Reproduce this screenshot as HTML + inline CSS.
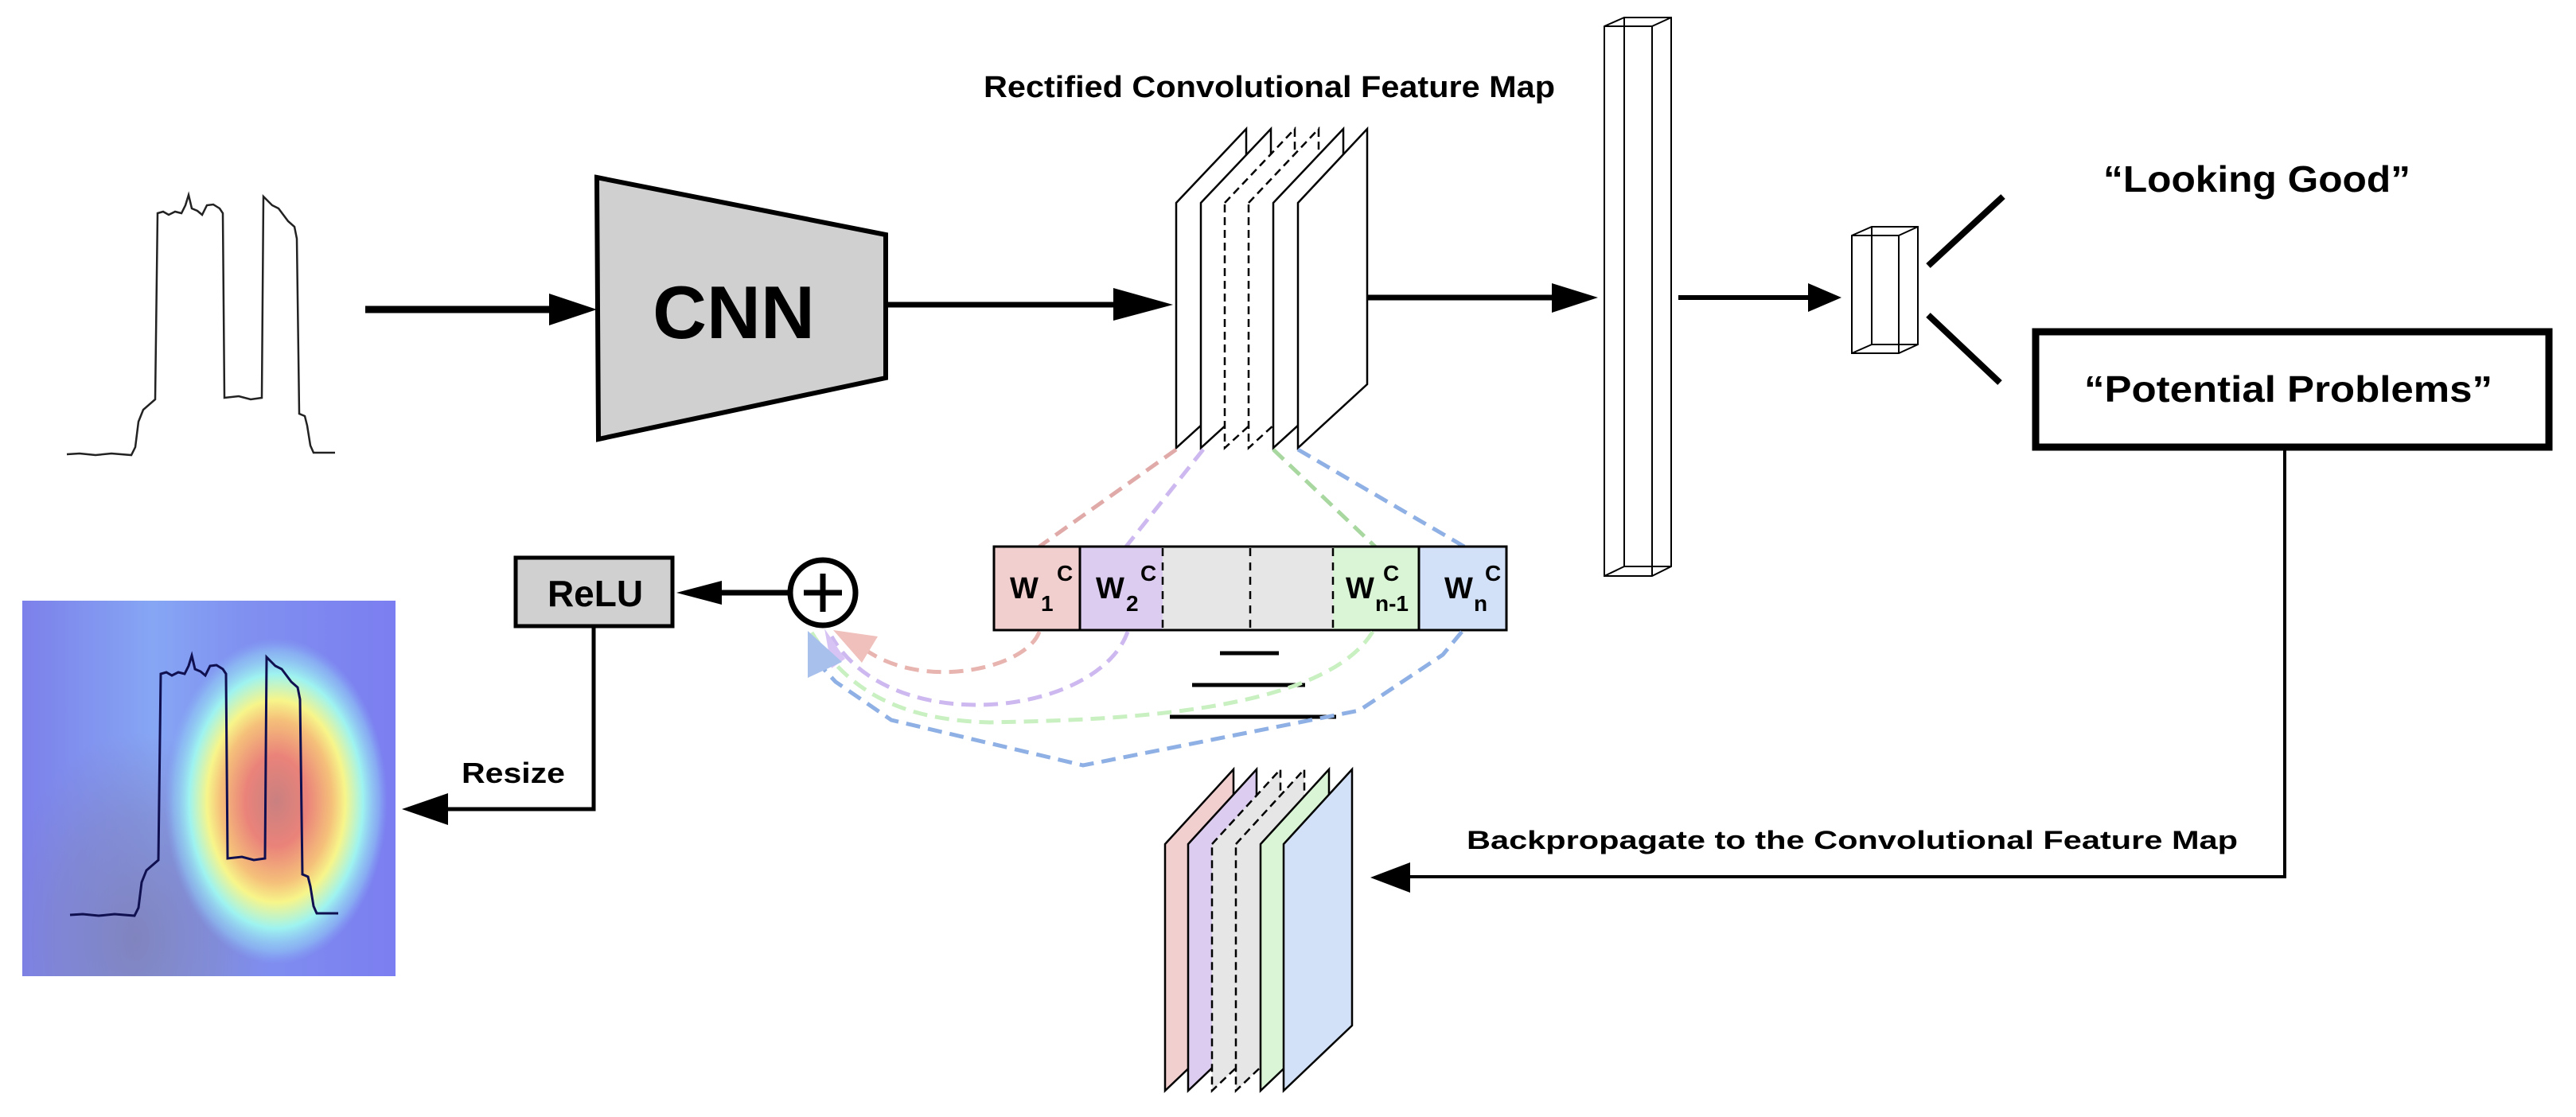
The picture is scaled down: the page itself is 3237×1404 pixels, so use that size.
<!DOCTYPE html>
<html><head><meta charset="utf-8"><style>
html,body{margin:0;padding:0;background:#fff;}
svg{display:block;}
text{font-family:"Liberation Sans",sans-serif;font-weight:bold;fill:#000;}
</style></head><body>
<svg width="3237" height="1404" viewBox="0 0 3237 1404" xmlns="http://www.w3.org/2000/svg">
<defs>
<radialGradient id="heat" cx="347" cy="1007" r="1" gradientUnits="userSpaceOnUse" gradientTransform="translate(347 1007) scale(140 205) translate(-347 -1007)">
<stop offset="0" stop-color="#c98080"/>
<stop offset="0.28" stop-color="#ea837a"/>
<stop offset="0.5" stop-color="#f5c07a"/>
<stop offset="0.62" stop-color="#f7f58a"/>
<stop offset="0.78" stop-color="#9ef3f0"/>
<stop offset="0.92" stop-color="#90c8f4" stop-opacity="0.6"/>
<stop offset="1" stop-color="#8ab0f4" stop-opacity="0"/>
</radialGradient>
<linearGradient id="hbg" x1="0" y1="0" x2="1" y2="0">
<stop offset="0" stop-color="#7c80ea"/>
<stop offset="0.35" stop-color="#86a6f4"/>
<stop offset="0.6" stop-color="#8090f0"/>
<stop offset="1" stop-color="#7b7ef0"/>
</linearGradient>
<radialGradient id="hdark" cx="170" cy="1180" r="1" gradientUnits="userSpaceOnUse" gradientTransform="translate(170 1180) scale(170 260) translate(-170 -1180)">
<stop offset="0" stop-color="#8080b8" stop-opacity="0.9"/>
<stop offset="0.6" stop-color="#8080c0" stop-opacity="0.5"/>
<stop offset="1" stop-color="#8080c8" stop-opacity="0"/>
</radialGradient>
<clipPath id="hclip"><rect x="28" y="755" width="469" height="472"/></clipPath>
</defs>

<!-- input signal -->
<path d="M84,571 L100,570 L120,572 L140,570 L165,572 L170,562 L174,530 L180,515 L195,502 L198,268 L205,266 L212,270 L220,266 L228,268 L233,258 L237,245 L241,262 L248,265 L254,270 L260,258 L268,257 L276,262 L280,268 L282,500 L300,498 L315,502 L329,500 L331,247 L336,252 L342,258 L350,262 L356,270 L362,278 L370,285 L373,300 L376,520 L383,523 L386,535 L390,560 L394,569 L421,569" fill="none" stroke="#222" stroke-width="2.5"/>

<!-- arrow 1 -->
<line x1="459" y1="389" x2="700" y2="389" stroke="#000" stroke-width="9"/>
<polygon points="690,369 750,389 690,409" fill="#000"/>

<!-- CNN -->
<polygon points="750,223 1113,295 1113,475 752,552" fill="#d0d0d0" stroke="#000" stroke-width="6"/>
<text x="922" y="425" font-size="94" text-anchor="middle">CNN</text>

<!-- arrow 2 -->
<line x1="1113" y1="383" x2="1410" y2="383" stroke="#000" stroke-width="7"/>
<polygon points="1399,362 1474,383 1399,403" fill="#000"/>

<text x="1236" y="122" font-size="38" textLength="718" lengthAdjust="spacingAndGlyphs">Rectified Convolutional Feature Map</text>

<!-- top feature map planes -->
<g stroke="#000" stroke-width="2.5" fill="#fff">
<polygon points="1478,255 1566,162 1566,483 1478,563"/>
<polygon points="1509,255 1597,162 1597,483 1509,563"/>
<polygon points="1539,255 1627,162 1627,483 1539,563" stroke-dasharray="10,6"/>
<polygon points="1569,255 1657,162 1657,483 1569,563" stroke-dasharray="10,6"/>
<polygon points="1600,255 1688,162 1688,483 1600,563"/>
<polygon points="1631,255 1718,162 1718,483 1631,563"/>
</g>

<!-- arrow 3 -->
<line x1="1718" y1="374" x2="1960" y2="374" stroke="#000" stroke-width="7"/>
<polygon points="1950,356 2008,374 1950,393" fill="#000"/>

<!-- big column -->
<g fill="none" stroke="#000" stroke-width="2">
<polygon points="2016,33 2041,22 2100,22 2100,712 2076,724 2016,724"/>
<line x1="2016" y1="33" x2="2076" y2="33"/>
<line x1="2076" y1="33" x2="2100" y2="22"/>
<line x1="2076" y1="33" x2="2076" y2="724"/>
<line x1="2041" y1="22" x2="2041" y2="712"/>
<line x1="2041" y1="712" x2="2100" y2="712"/>
<line x1="2016" y1="724" x2="2041" y2="712"/>
</g>

<!-- arrow 4 -->
<line x1="2109" y1="374" x2="2280" y2="374" stroke="#000" stroke-width="6"/>
<polygon points="2272,356 2314,374 2272,392" fill="#000"/>

<!-- small box -->
<g fill="none" stroke="#000" stroke-width="2">
<polygon points="2327,296 2352,285 2410,285 2410,433 2386,444 2327,444"/>
<line x1="2327" y1="296" x2="2386" y2="296"/>
<line x1="2386" y1="296" x2="2410" y2="285"/>
<line x1="2386" y1="296" x2="2386" y2="444"/>
<line x1="2352" y1="285" x2="2352" y2="433"/>
<line x1="2352" y1="433" x2="2410" y2="433"/>
<line x1="2327" y1="444" x2="2352" y2="433"/>
</g>

<line x1="2423" y1="334" x2="2517" y2="247" stroke="#000" stroke-width="8"/>
<line x1="2423" y1="396" x2="2513" y2="481" stroke="#000" stroke-width="8"/>

<text x="2643" y="241" font-size="46" textLength="386" lengthAdjust="spacingAndGlyphs">“Looking Good”</text>
<rect x="2558" y="417" width="645" height="145" fill="none" stroke="#000" stroke-width="9"/>
<text x="2619" y="505" font-size="46" textLength="513" lengthAdjust="spacingAndGlyphs">“Potential Problems”</text>

<!-- backprop line -->
<polyline points="2871,566 2871,1102 1760,1102" fill="none" stroke="#000" stroke-width="4"/>
<polygon points="1772,1084 1722,1103 1772,1122" fill="#000"/>
<text x="1843" y="1067" font-size="32" textLength="969" lengthAdjust="spacingAndGlyphs">Backpropagate to the Convolutional Feature Map</text>

<!-- bottom feature map planes -->
<g stroke="#000" stroke-width="2.5">
<polygon points="1464,1061 1550,967 1550,1289 1464,1371" fill="#f2cfcf"/>
<polygon points="1493,1061 1579,967 1579,1289 1493,1371" fill="#dccdf0"/>
<polygon points="1523,1061 1609,967 1609,1289 1523,1371" fill="#e6e6e6" stroke-dasharray="10,6"/>
<polygon points="1553,1061 1639,967 1639,1289 1553,1371" fill="#e6e6e6" stroke-dasharray="10,6"/>
<polygon points="1584,1061 1670,967 1670,1289 1584,1371" fill="#daf5d5"/>
<polygon points="1613,1061 1699,967 1699,1289 1613,1371" fill="#d2e1f7"/>
</g>

<!-- dashed connectors planes -> cells -->
<g fill="none" stroke-width="5" stroke-dasharray="18,10">
<line x1="1478" y1="565" x2="1306" y2="687" stroke="#e0aaa8"/>
<line x1="1512" y1="565" x2="1415" y2="687" stroke="#cdb8f0"/>
<line x1="1600" y1="565" x2="1728" y2="687" stroke="#a8d8a0"/>
<line x1="1631" y1="565" x2="1840" y2="687" stroke="#8fb0e4"/>
</g>

<!-- weight bar -->
<rect x="1249" y="687" width="108" height="105" fill="#f2cfcf"/>
<rect x="1357" y="687" width="104" height="105" fill="#dccdf0"/>
<rect x="1461" y="687" width="214" height="105" fill="#e6e6e6"/>
<rect x="1675" y="687" width="108" height="105" fill="#daf5d5"/>
<rect x="1783" y="687" width="110" height="105" fill="#d2e1f7"/>
<rect x="1249" y="687" width="644" height="105" fill="none" stroke="#000" stroke-width="3"/>
<line x1="1357" y1="687" x2="1357" y2="792" stroke="#000" stroke-width="3"/>
<line x1="1783" y1="687" x2="1783" y2="792" stroke="#000" stroke-width="3"/>
<g stroke="#000" stroke-width="2.5" stroke-dasharray="10,8">
<line x1="1461" y1="689" x2="1461" y2="790"/>
<line x1="1571" y1="689" x2="1571" y2="790"/>
<line x1="1675" y1="689" x2="1675" y2="790"/>
</g>
<g font-size="38">
<text x="1269" y="752">W</text><text x="1328" y="730" font-size="28">C</text><text x="1308" y="768" font-size="28">1</text>
<text x="1377" y="752">W</text><text x="1433" y="730" font-size="28">C</text><text x="1415" y="768" font-size="28">2</text>
<text x="1691" y="752">W</text><text x="1738" y="730" font-size="28">C</text><text x="1728" y="768" font-size="28">n-1</text>
<text x="1815" y="752">W</text><text x="1866" y="730" font-size="28">C</text><text x="1852" y="768" font-size="28">n</text>
</g>

<line x1="1533" y1="821" x2="1607" y2="821" stroke="#000" stroke-width="5"/>
<line x1="1498" y1="861" x2="1640" y2="861" stroke="#000" stroke-width="5"/>
<line x1="1470" y1="901" x2="1679" y2="901" stroke="#000" stroke-width="5"/>

<!-- dashed curves back to plus -->
<g fill="none" stroke-width="5" stroke-dasharray="18,10">
<path d="M1306,794 C1290,840 1160,870 1085,815" stroke="#e8b4b0"/>
<path d="M1417,794 C1380,900 1120,930 1045,800" stroke="#cdb8f0"/>
<path d="M1725,794 C1660,900 1380,905 1244,908 C1120,905 1060,860 1020,795" stroke="#c8f0c0"/>
<path d="M1837,794 L1813,823 L1708,893 L1361,962 L1120,905 L1050,857 L1025,830" stroke="#8fb0e4"/>
</g>
<polygon points="1047,792 1103,800 1083,833" fill="#f0c0bc"/>
<polygon points="1036,790 1062,828 1045,840" fill="#d8c4f4"/>
<polygon points="1015,793 1058,832 1015,852" fill="#a8c0ec"/>

<!-- plus circle -->
<circle cx="1034" cy="745" r="41" fill="#fff" stroke="#000" stroke-width="7"/>
<line x1="1010" y1="745" x2="1058" y2="745" stroke="#000" stroke-width="7"/>
<line x1="1034" y1="721" x2="1034" y2="769" stroke="#000" stroke-width="7"/>

<!-- arrow to ReLU -->
<line x1="990" y1="745" x2="895" y2="745" stroke="#000" stroke-width="7"/>
<polygon points="907,730 850,745 907,760" fill="#000"/>

<!-- ReLU -->
<rect x="648" y="701" width="197" height="86" fill="#d0d0d0" stroke="#000" stroke-width="5"/>
<text x="748" y="762" font-size="46" text-anchor="middle">ReLU</text>

<!-- resize -->
<polyline points="746,789 746,1017 550,1017" fill="none" stroke="#000" stroke-width="5"/>
<polygon points="563,997 505,1017 563,1037" fill="#000"/>
<text x="580" y="984" font-size="36" textLength="130" lengthAdjust="spacingAndGlyphs">Resize</text>

<!-- heatmap -->
<g clip-path="url(#hclip)">
<rect x="28" y="755" width="469" height="472" fill="url(#hbg)"/>
<rect x="28" y="755" width="469" height="472" fill="url(#hdark)"/>
<ellipse cx="347" cy="1007" rx="140" ry="205" fill="url(#heat)"/>
</g>
<path d="M88,1150 L104,1149 L124,1151 L144,1149 L169,1151 L174,1141 L178,1109 L184,1094 L199,1081 L202,847 L209,845 L216,849 L224,845 L232,847 L237,837 L241,824 L245,841 L252,844 L258,849 L264,837 L272,836 L280,841 L284,847 L286,1079 L304,1077 L319,1081 L333,1079 L335,826 L340,831 L346,837 L354,841 L360,849 L366,857 L374,864 L377,879 L380,1099 L387,1102 L390,1114 L394,1139 L398,1148 L425,1148" fill="none" stroke="#101050" stroke-width="3"/>
</svg>
</body></html>
